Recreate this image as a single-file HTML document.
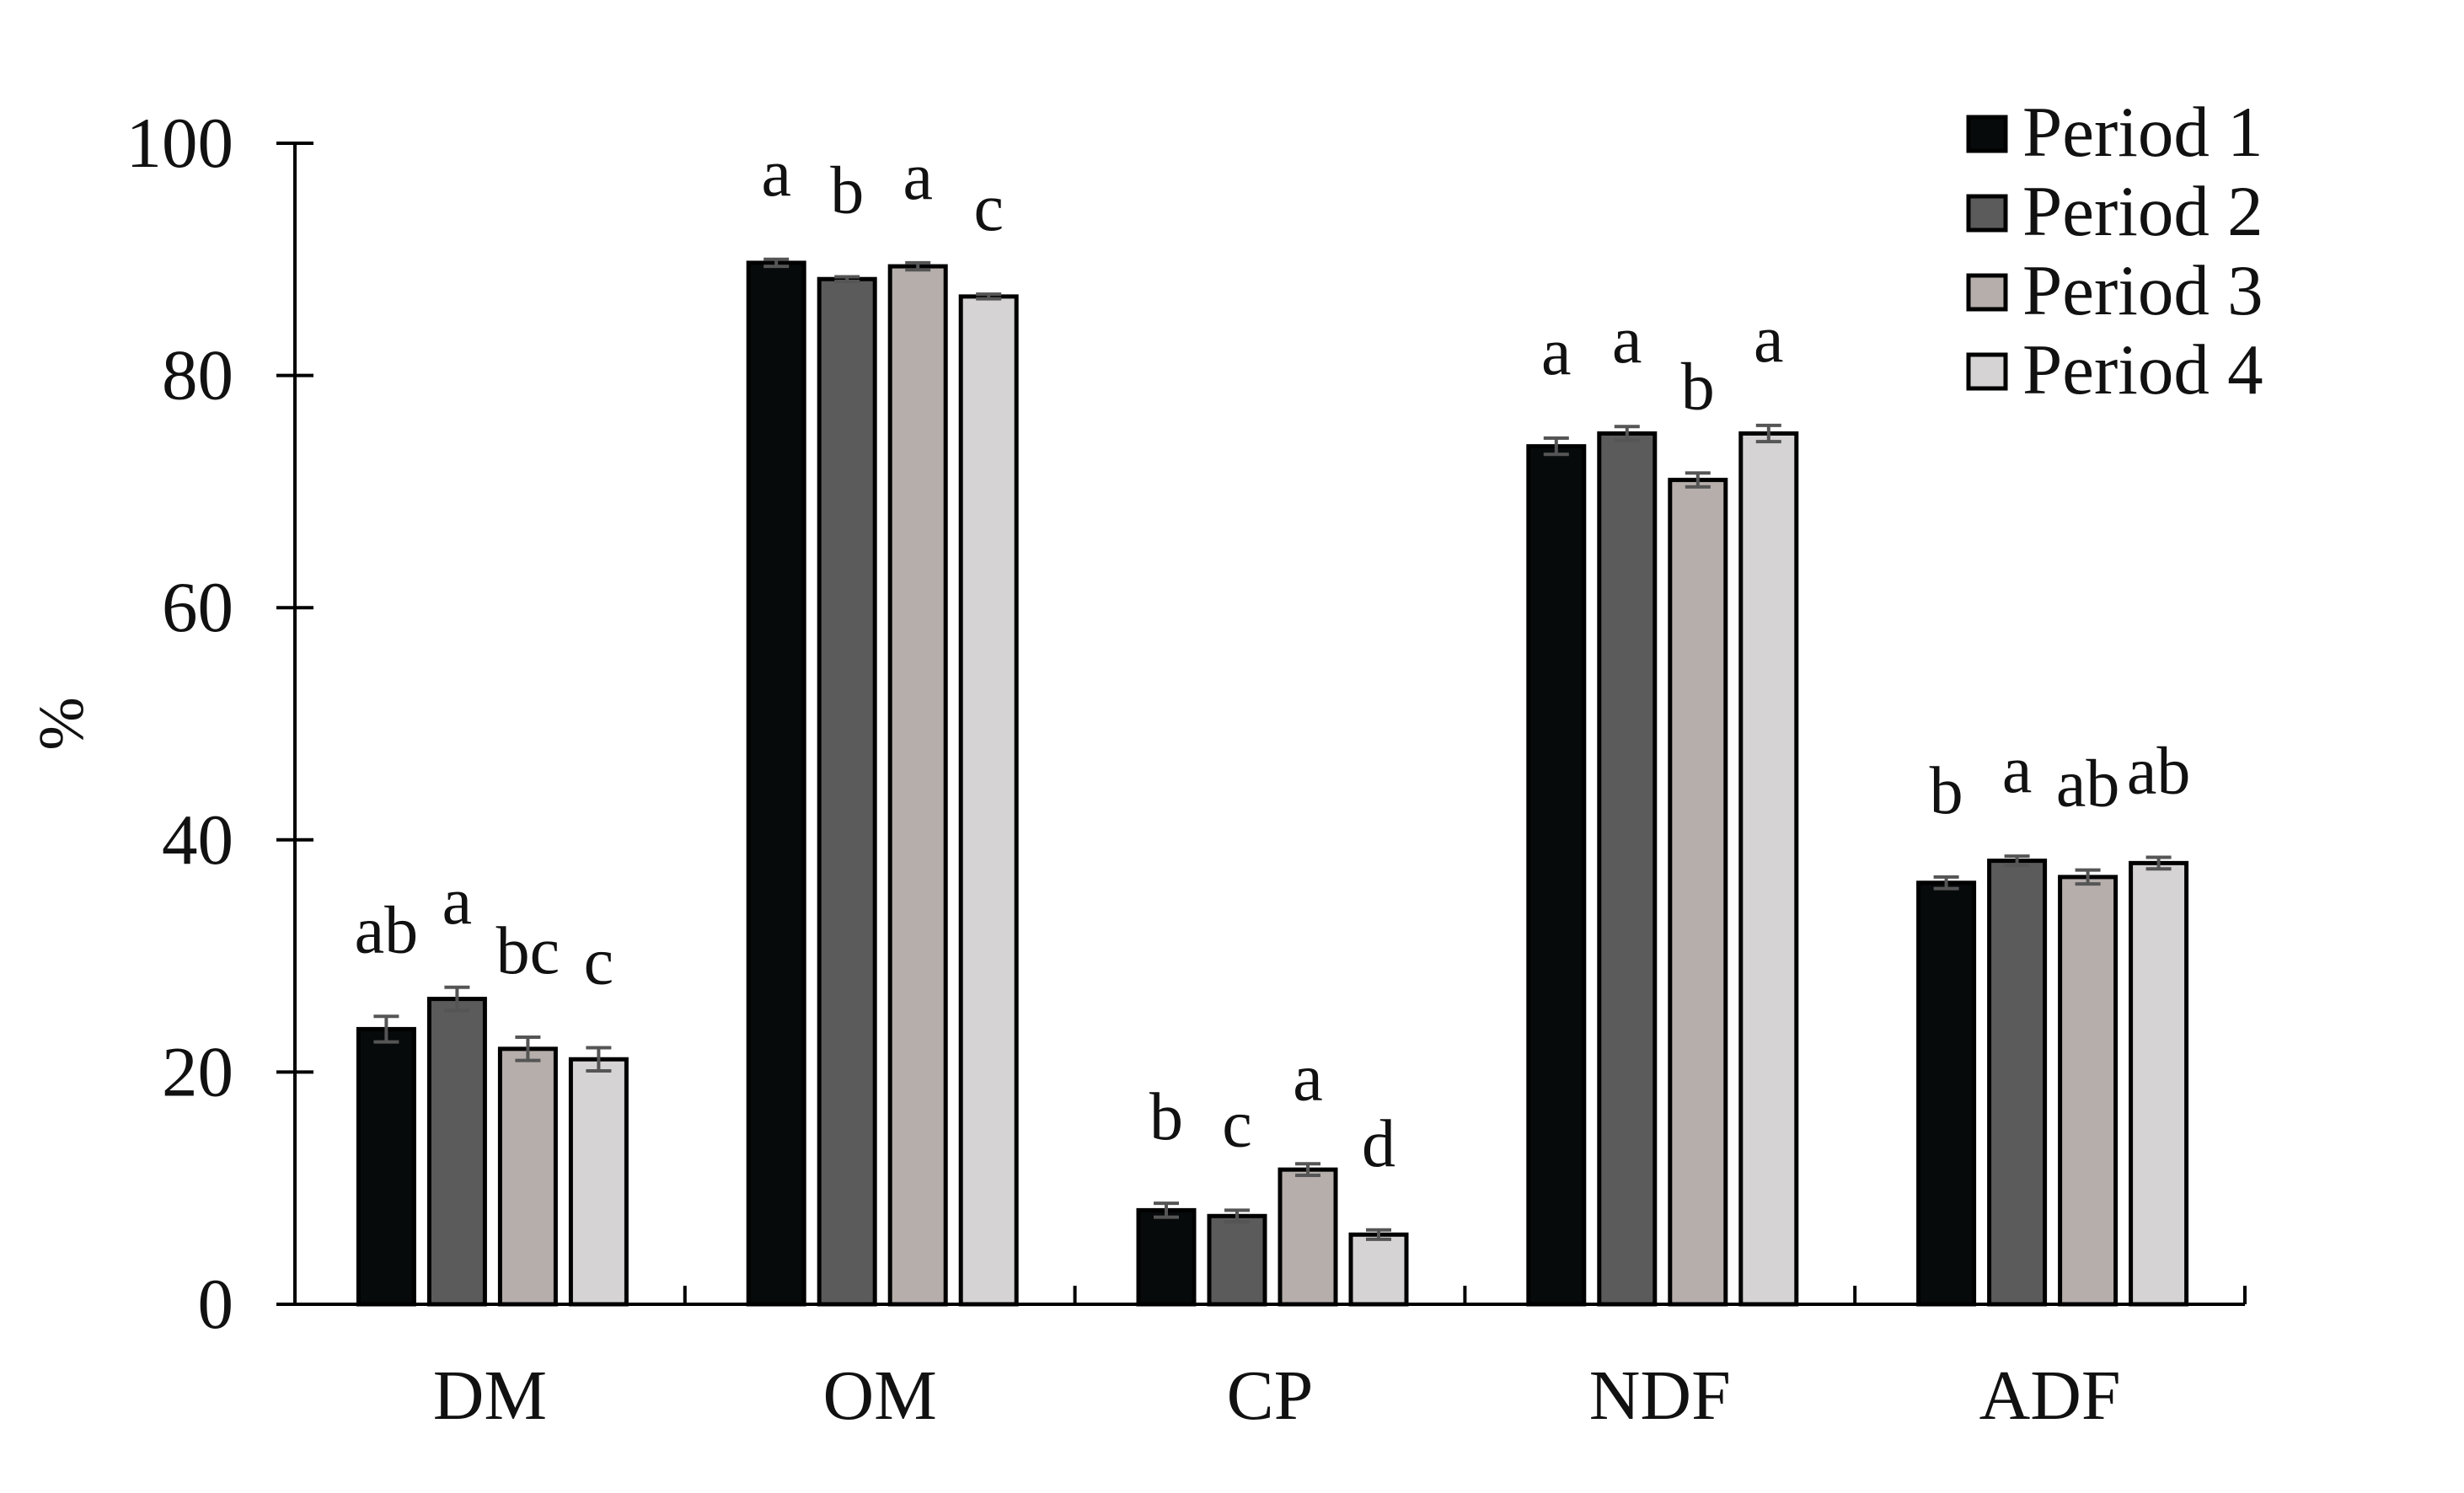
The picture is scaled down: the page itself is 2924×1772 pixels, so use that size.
<!DOCTYPE html>
<html><head><meta charset="utf-8"><style>
html,body{margin:0;padding:0;background:#fff;}
svg{display:block;font-family:"Liberation Serif",serif;}
</style></head><body>
<svg id="chart" width="2924" height="1772" viewBox="0 0 2924 1772" xmlns="http://www.w3.org/2000/svg">
<g id="axes"></g>
<g id="bars"></g>
<g id="legend"></g>
</svg>
<script>
const categories = ["DM","OM","CP","NDF","ADF"];
const series = ["Period 1","Period 2","Period 3","Period 4"];
const p1 = [23.7, 89.7, 8.1, 73.9, 36.3];
const p2 = [26.3, 88.3, 7.6, 75.0, 38.2];
const p3 = [22.0, 89.4, 11.6, 71.0, 36.8];
const p4 = [21.1, 86.8, 6.0, 75.0, 38.0];
const e1 = [1.1, 0.3, 0.6, 0.7, 0.5];
const e2 = [1.0, 0.2, 0.5, 0.6, 0.4];
const e3 = [1.0, 0.3, 0.5, 0.6, 0.6];
const e4 = [1.0, 0.2, 0.4, 0.7, 0.5];
const l1 = ["ab","a","b","a","b"];
const l2 = ["a","b","c","a","a"];
const l3 = ["bc","a","a","b","ab"];
const l4 = ["c","c","d","a","ab"];
const yTicks = [0,20,40,60,80,100];

const NS="http://www.w3.org/2000/svg";
const X0=350, X1=2664, Y0=1548, Ytop=170;
const catW=(X1-X0)/categories.length;
const y=v=>Y0-(v/100)*(Y0-Ytop);
const xc=i=>X0+catW*(i+0.5)+3;
const fills=["#060a0b","#5a5b5a","#b5aeab","#d5d3d4"];
const vals=[p1,p2,p3,p4], errs=[e1,e2,e3,e4], labs=[l1,l2,l3,l4];
function mk(tag,attrs,parent,text){const el=document.createElementNS(NS,tag);for(const k in attrs)el.setAttribute(k,attrs[k]);if(text!==undefined)el.textContent=text;parent.appendChild(el);return el;}
const axes=document.getElementById('axes'), bars=document.getElementById('bars'), legend=document.getElementById('legend');

let el=mk('line',{x1:X0,y1:Ytop,x2:X0,y2:Y0,stroke:'#000','stroke-width':4},axes);


el=mk('line',{x1:X0-22,y1:Y0,x2:X1,y2:Y0,stroke:'#000','stroke-width':4},axes);


yTicks.forEach(t=>{
  const tk=mk('line',{x1:X0-22,y1:y(t),x2:X0+22,y2:y(t),stroke:'#000','stroke-width':4},axes);
  
  
  const tl=mk('text',{x:277,y:y(t)+28,'text-anchor':'end','font-size':85,fill:'#111'},axes,String(t));
  
  
});
for(let i=1;i<=categories.length;i++){
  const tk=mk('line',{x1:X0+catW*i,y1:Y0,x2:X0+catW*i,y2:Y0-22,stroke:'#000','stroke-width':4},axes);
  
  
}
categories.forEach((c,i)=>{
  const t=mk('text',{x:xc(i)-3,y:1684,'text-anchor':'middle','font-size':84,fill:'#111'},axes,c);
  
  
});
el=mk('text',{x:0,y:0,'text-anchor':'middle','font-size':76,fill:'#111',transform:'translate(98,859) rotate(-90)'},axes,'%');



const pitch=84, bw=66;
categories.forEach((c,i)=>{
  for(let s=0;s<4;s++){
    const v=vals[s][i], e=errs[s][i];
    const cx=xc(i)+(s-1.5)*pitch;
    const r=mk('rect',{x:cx-bw/2,y:y(v),width:bw,height:Y0-y(v),fill:fills[s],stroke:'#000','stroke-width':5},bars);
    
    
    const g=mk('g',{stroke:'#555','stroke-width':4},bars);
    
    
    mk('line',{x1:cx,y1:y(v+e),x2:cx,y2:y(v-e)},g);
    mk('line',{x1:cx-15,y1:y(v+e),x2:cx+15,y2:y(v+e)},g);
    mk('line',{x1:cx-15,y1:y(v-e),x2:cx+15,y2:y(v-e)},g);
    const t=mk('text',{x:cx,y:y(v+e)-76,'text-anchor':'middle','font-size':80,fill:'#111'},bars,labs[s][i]);
    
    
  }
});

series.forEach((sn,s)=>{
  const by=185+s*94;
  const g=mk('g',{},legend);
  
  
  mk('rect',{x:2336,y:by-46,width:44,height:40,fill:fills[s],stroke:'#000','stroke-width':5},g);
  mk('text',{x:2400,y:by,'font-size':85,fill:'#111'},g,sn);
});
</script>
</body></html>
